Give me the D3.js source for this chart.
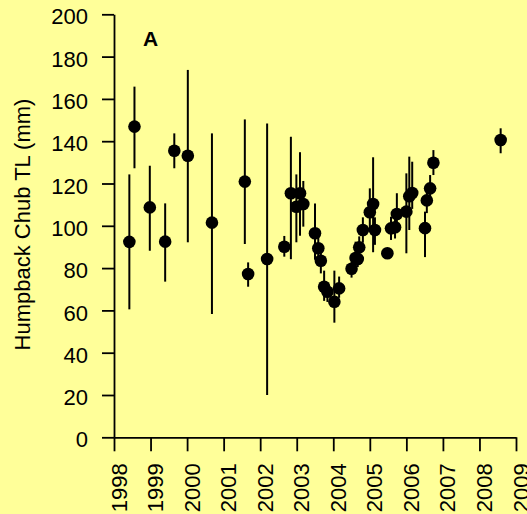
<!DOCTYPE html>
<html>
<head>
<meta charset="utf-8">
<script src="https://cdn.jsdelivr.net/npm/d3@7"></script>
<style>
  html, body { margin: 0; padding: 0; background: #ffff99; }
  svg { display: block; }
  text { font-family: "Liberation Sans", Arial, sans-serif; fill: #000; }
</style>
</head>
<body>
<svg id="chart" width="527" height="514"></svg>
<script>
// Sampling date (decimal year), mean total length and error-bar ends (mm)
const sampleYears = [
  1998.42, 1998.56, 1998.98, 1999.40, 1999.65, 2000.02, 2000.68, 2001.58, 2001.67,
  2002.19, 2002.66, 2002.84, 2002.99, 2003.09, 2003.18, 2003.50, 2003.59, 2003.66,
  2003.75, 2003.84, 2004.03, 2004.16, 2004.50, 2004.61, 2004.67, 2004.71, 2004.81,
  2005.00, 2005.09, 2005.14, 2005.48, 2005.58, 2005.69, 2005.74, 2006.00, 2006.08,
  2006.16, 2006.51, 2006.56, 2006.65, 2006.74, 2008.58
];
const meanTL = [
  92.4, 146.9, 108.7, 92.5, 135.5, 133.1, 101.5, 120.9, 77.2,
  84.3, 90.1, 115.4, 109.0, 115.4, 110.3, 96.5, 89.4, 83.5,
  71.2, 68.8, 64.1, 70.4, 79.7, 84.8, 84.3, 89.8, 98.0,
  106.4, 110.3, 98.0, 87.0, 98.8, 99.3, 105.6, 106.7, 114.0,
  115.5, 98.9, 112.0, 117.7, 129.8, 140.6
];
const upperTL = [
  124.3, 165.8, 128.4, 110.6, 143.7, 173.7, 143.7, 150.3, 82.7,
  148.4, 95.2, 142.1, 124.3, 134.8, 121.2, 110.6, 95.0, 88.0,
  78.8, 73.0, 78.8, 76.0, 83.0, 92.5, 88.0, 95.0, 104.0,
  117.7, 132.4, 104.0, 89.0, 104.3, 105.0, 115.4, 124.8, 132.7,
  130.3, 106.7, 118.0, 124.0, 135.8, 146.1
];
const lowerTL = [
  60.5, 127.2, 88.2, 73.6, 127.2, 92.2, 58.3, 91.4, 71.2,
  20.0, 85.4, 84.2, 92.2, 95.3, 99.6, 84.0, 83.0, 77.5,
  64.5, 64.0, 54.2, 66.0, 75.5, 80.0, 80.5, 85.0, 92.0,
  98.0, 87.5, 91.0, 84.5, 93.3, 94.0, 98.0, 87.0, 98.0,
  108.0, 85.2, 106.0, 110.0, 124.0, 134.3
];
const yearTicks = [1998, 1999, 2000, 2001, 2002, 2003, 2004, 2005, 2006, 2007, 2008, 2009];
const tlTicks = [0, 20, 40, 60, 80, 100, 120, 140, 160, 180, 200];
const yLabel = "Humpback Chub TL (mm)";
const panelLabel = "A";

const svg = d3.select("#chart");
svg.append("rect").attr("width", 527).attr("height", 514).attr("fill", "#ffff99");

const x = d3.scaleLinear().domain([1998, 2009]).range([114, 516]);
const y = d3.scaleLinear().domain([0, 200]).range([437.3, 14.3]);

// Y axis
const yAxis = svg.append("g")
  .attr("transform", "translate(114,0)")
  .call(d3.axisLeft(y).tickValues(tlTicks).tickSize(12).tickSizeOuter(0).tickPadding(14));
yAxis.selectAll("text").attr("font-size", 22).attr("dy", "0.44em")
  .style("font-family", '"Liberation Sans", Arial, sans-serif');

// X axis with vertical year labels
const xAxis = svg.append("g")
  .attr("transform", "translate(0,437.3)")
  .call(d3.axisBottom(x).tickValues(yearTicks).tickFormat(d3.format("d")).tickSize(14).tickSizeOuter(0));
xAxis.selectAll("text")
  .attr("font-size", 22)
  .attr("text-anchor", "end")
  .attr("transform", "rotate(-90)")
  .attr("x", -26)
  .attr("y", 12)
  .attr("dy", 0)
  .style("font-family", '"Liberation Sans", Arial, sans-serif');

svg.selectAll(".domain, .tick line").attr("stroke", "#000").attr("stroke-width", 1.8);

// Axis title and panel letter
svg.append("text")
  .attr("transform", "translate(29.5,224.5) rotate(-90)")
  .attr("text-anchor", "middle")
  .attr("font-size", 22)
  .text(yLabel);

svg.append("text")
  .attr("x", 143).attr("y", 46)
  .attr("font-size", 21).attr("font-weight", "bold")
  .text(panelLabel);

// Error bars and means
const pts = sampleYears.map((t, i) => ({ t, m: meanTL[i], hi: upperTL[i], lo: lowerTL[i] }));

svg.append("g").selectAll("line").data(pts).join("line")
  .attr("x1", d => x(d.t)).attr("x2", d => x(d.t))
  .attr("y1", d => y(d.hi)).attr("y2", d => y(d.lo))
  .attr("stroke", "#000").attr("stroke-width", 2);

svg.append("g").selectAll("circle").data(pts).join("circle")
  .attr("cx", d => x(d.t)).attr("cy", d => y(d.m))
  .attr("r", 6.3).attr("fill", "#000");
</script>
</body>
</html>
